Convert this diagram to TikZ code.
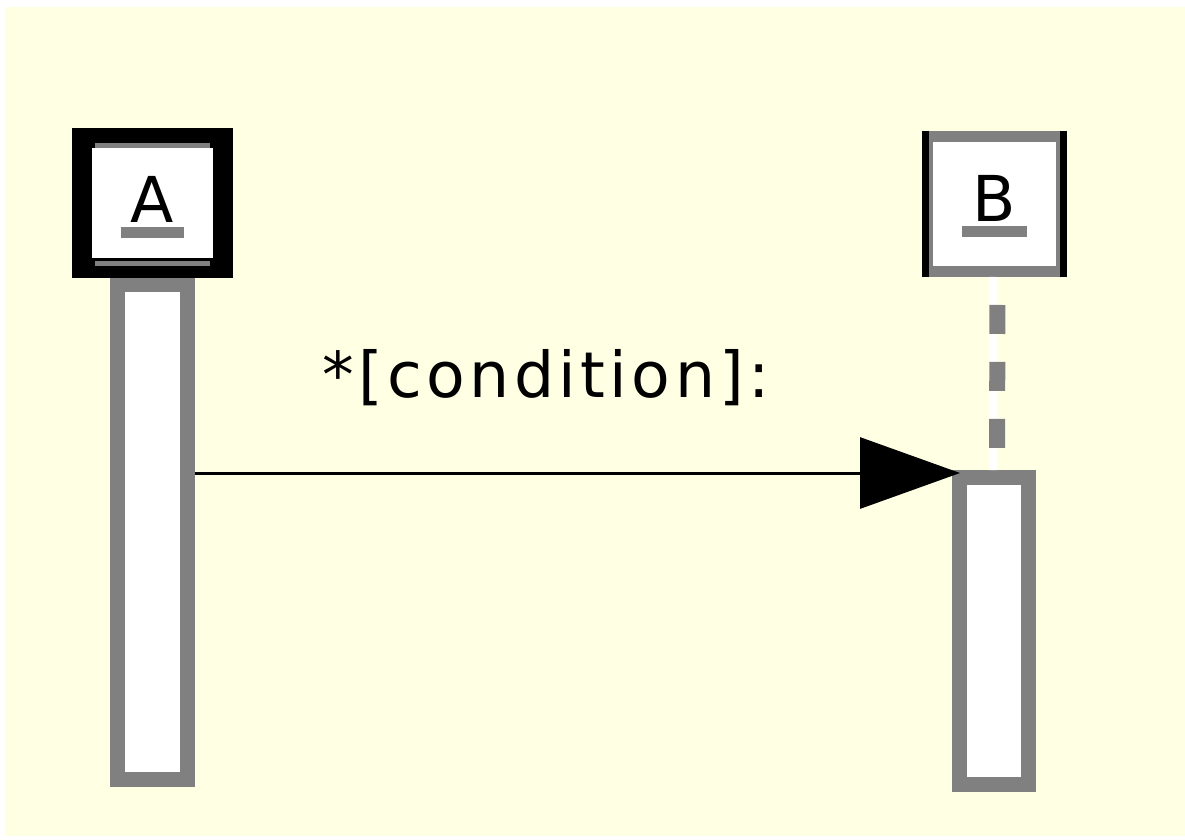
\documentclass[tikz,border=0pt]{standalone}
\usepackage{fontspec}
\usepackage{tikz}
\usetikzlibrary{arrows.meta}
\newfontfamily\umlfont{DejaVu Sans}
\definecolor{notebg}{RGB}{255,255,228}
\definecolor{linegray}{RGB}{128,128,128}

\begin{document}
\begin{tikzpicture}[x=0.02cm,y=-0.02cm,
		bar/.style={draw=linegray,fill=white,line width=0.3cm,inner sep=0pt},
		uml/.style={font=\umlfont\fontsize{36}{40}\selectfont,inner sep=0pt}]
				\useasboundingbox (0,0) rectangle (1185,839);
				\fill[notebg] (5,7) rectangle (1185,836);
				% activation bars
				\node[bar,minimum width=1.4cm,minimum height=9.9cm] (actA) at (152.5,532) {};
				\node[bar,minimum width=1.38cm,minimum height=6.14cm] (actB) at (994,631) {};
				% object A
				\node[draw=black,fill=white,line width=0.4cm,minimum width=2.82cm,minimum height=2.6cm] (A) at (152.5,203) {};
				\draw[linegray,line width=0.1cm]
				([shift={(0.46cm,-0.35cm)}]A.north west) --
				([shift={(-0.46cm,-0.35cm)}]A.north east);
				\draw[linegray,line width=0.1cm]
				([shift={(0.46cm,0.28cm)}]A.south west) --
				([shift={(-0.46cm,0.28cm)}]A.south east);
				% object B
				\node[draw=linegray,fill=white,line width=0.22cm,minimum width=2.68cm,minimum height=2.7cm] (B) at (994.5,204) {};
				\draw[black,line width=0.14cm]
				([xshift=0.07cm]B.north west) -- ([xshift=0.07cm]B.south west);
				\draw[black,line width=0.14cm]
				([xshift=-0.07cm]B.north east) -- ([xshift=-0.07cm]B.south east);
				% names
				\node[uml,anchor=base] (labA) at (152.5,222) {A};
				\draw[linegray,line width=0.22cm]
				([shift={(-0.2cm,-0.21cm)}]labA.base west) --
				([shift={(0.2cm,-0.21cm)}]labA.base east);
				\node[uml,anchor=base] (labB) at (994.5,221) {B};
				\draw[linegray,line width=0.22cm]
				([shift={(-0.2cm,-0.21cm)}]labB.base west) --
				([shift={(0.2cm,-0.21cm)}]labB.base east);
				% lifeline of B
				\draw[white,line width=0.16cm]
				([xshift=-0.02cm]B.south) -- ([xshift=-0.02cm]actB.north);
				\draw[linegray,line width=0.32cm,dash pattern=on 0.58cm off 0.56cm,dash phase=0.58cm]
				([xshift=0.06cm]B.south) -- ([xshift=0.06cm]actB.north);
				% message
				\coordinate (msg) at (0,473);
				\coordinate (msgA) at (actA.east |- msg);
				\coordinate (msgB) at (actB.west |- msg);
				\draw[-{Triangle[length=2cm,width=1.42cm]},line width=0.06cm]
				(msgA) -- ([xshift=0.16cm]msgB);
				\node[uml,anchor=base] (cond) at (546,397) {\addfontfeature{LetterSpace=7}*[condition]:};
\end{tikzpicture}
\end{document}
